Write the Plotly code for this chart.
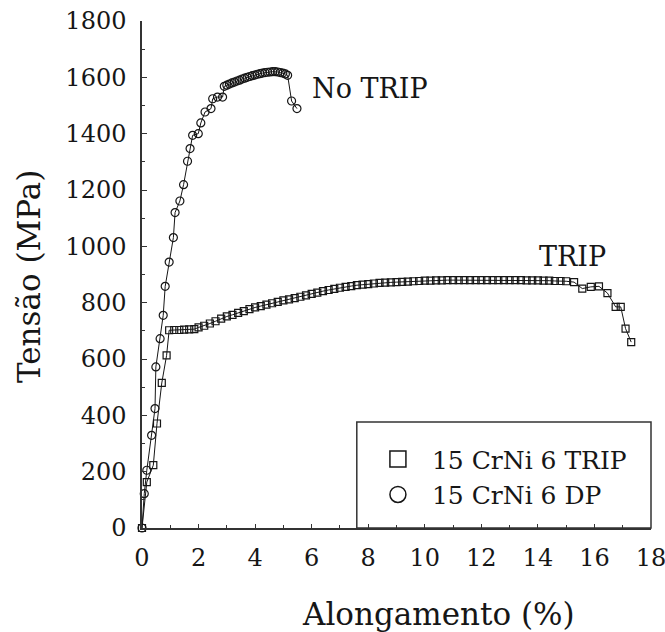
import plotly.graph_objects as go

# ---- data ----
dp_x = [0, 0.08, 0.17, 0.34, 0.46, 0.49, 0.64, 0.75, 0.82, 0.96, 1.11, 1.17, 1.34, 1.47,
        1.61, 1.70, 1.79, 1.99, 2.08, 2.23, 2.44, 2.50, 2.67, 2.85, 2.91,
        3.00, 3.09, 3.18, 3.27, 3.36, 3.45, 3.54, 3.63, 3.72, 3.81, 3.90, 3.99, 4.08,
        4.17, 4.26, 4.35, 4.44, 4.53, 4.62, 4.71, 4.80, 4.89, 4.98, 5.07, 5.15,
        5.29, 5.48]
dp_y = [0, 122, 205, 329, 424, 572, 672, 755, 858, 944, 1031, 1120, 1161, 1219,
        1302, 1347, 1394, 1400, 1438, 1477, 1489, 1524, 1530, 1530, 1568,
        1572, 1576, 1580, 1583, 1587, 1590, 1594, 1597, 1600, 1603, 1606, 1608, 1611,
        1613, 1615, 1617, 1618, 1619, 1620, 1620, 1619, 1617, 1615, 1612, 1607,
        1516, 1489]

trip_x = [0, 0.17, 0.40, 0.53, 0.70, 0.87, 0.96, 1.14, 1.32, 1.49, 1.67, 1.85,
          2.0, 2.2, 2.4, 2.6, 2.8, 3.0, 3.2, 3.4, 3.6, 3.8, 4.0, 4.2, 4.4, 4.6, 4.8,
          5.0, 5.2, 5.4, 5.6, 5.8, 6.0, 6.2, 6.4, 6.6, 6.8, 7.0, 7.2, 7.4, 7.6, 7.8,
          8.0, 8.2, 8.4, 8.6, 8.8, 9.0, 9.2, 9.4, 9.6, 9.8, 10.0, 10.2, 10.4, 10.6,
          10.8, 11.0, 11.2, 11.4, 11.6, 11.8, 12.0, 12.2, 12.4, 12.6, 12.8, 13.0,
          13.2, 13.4, 13.6, 13.8, 14.0, 14.2, 14.4, 14.6, 14.8, 15.0, 15.28, 15.57,
          15.87, 16.16, 16.46, 16.75, 16.93, 17.10, 17.30]
trip_y = [0, 163, 223, 371, 515, 613, 702, 703, 703, 704, 705, 706,
          712, 718, 726, 734, 743, 751, 757, 764, 770, 777, 783, 788, 793, 798, 803,
          808, 812, 816, 821, 826, 831, 836, 841, 845, 849, 853, 856, 859, 862, 864,
          866, 868, 870, 871, 872, 873, 874, 875, 876, 877, 878, 878, 879, 879,
          880, 880, 880, 880, 880, 880, 880, 880, 880, 880, 880, 880,
          880, 880, 879, 879, 879, 878, 878, 877, 877, 876, 873, 850,
          856, 858, 834, 785, 785, 708, 660]

series_names = ["15 CrNi 6 TRIP", "15 CrNi 6 DP"]
x_ticks = [0, 2, 4, 6, 8, 10, 12, 14, 16, 18]
y_ticks = [0, 200, 400, 600, 800, 1000, 1200, 1400, 1600, 1800]

FONT = "DejaVu Serif"
INK = "#161616"

fig = go.Figure()

fig.add_trace(go.Scatter(
    x=trip_x, y=trip_y, mode="lines+markers", showlegend=False,
    line=dict(color=INK, width=1),
    marker=dict(symbol="square-open", size=7, color=INK, line=dict(width=1.2)),
    cliponaxis=False))
fig.add_trace(go.Scatter(
    x=dp_x, y=dp_y, mode="lines+markers", showlegend=False,
    line=dict(color=INK, width=1),
    marker=dict(symbol="circle-open", size=8, color=INK, line=dict(width=1.2)),
    cliponaxis=False))

# legend entries
fig.add_trace(go.Scatter(
    x=[None], y=[None], mode="markers", name=series_names[0],
    marker=dict(symbol="square-open", size=16, color=INK, line=dict(width=1.5))))
fig.add_trace(go.Scatter(
    x=[None], y=[None], mode="markers", name=series_names[1],
    marker=dict(symbol="circle-open", size=16, color=INK, line=dict(width=1.5))))

axis_common = dict(
    showgrid=False, zeroline=False, showline=True, linecolor="#333", linewidth=1.5,
    ticks="inside", tickcolor="#333", tickwidth=1.2, ticklabeloverflow="allow",
    automargin=False, tickfont=dict(family=FONT, size=24, color=INK),
)

fig.update_xaxes(range=[0, 18], tickvals=x_ticks, ticklen=4, ticklabelstandoff=7,
                 minor=dict(dtick=1, ticks="inside", ticklen=3, tickcolor="#333"),
                 **axis_common)
fig.update_yaxes(range=[0, 1800], tickvals=y_ticks, ticklen=5, ticklabelstandoff=9,
                 minor=dict(dtick=100, ticks="inside", ticklen=3, tickcolor="#333"),
                 **axis_common)

fig.add_annotation(x=5.93, y=1561, text="No TRIP", showarrow=False, xanchor="left",
                   yanchor="middle", font=dict(family=FONT, size=27, color=INK))
fig.add_annotation(x=13.96, y=964, text="TRIP", showarrow=False, xanchor="left",
                   yanchor="middle", font=dict(family=FONT, size=27, color=INK))

# axis titles
fig.add_annotation(xref="paper", yref="paper", x=-0.222, y=0.495, text="Tensão (MPa)",
                   textangle=-90, showarrow=False, xanchor="center", yanchor="middle",
                   font=dict(family=FONT, size=31, color=INK))
fig.add_annotation(xref="paper", yref="paper", x=0.583, y=-0.17, text="Alongamento (%)",
                   showarrow=False, xanchor="center", yanchor="middle",
                   font=dict(family=FONT, size=31, color=INK))

# legend box
fig.add_shape(type="rect", xref="paper", yref="paper", x0=0.422, x1=1.0, y0=0, y1=0.209,
              line=dict(color="#333", width=1.5), fillcolor="rgba(0,0,0,0)", layer="above")

fig.update_layout(
    width=665, height=632,
    margin=dict(l=142, r=14, t=21, b=104),
    plot_bgcolor="white", paper_bgcolor="white",
    font=dict(family=FONT),
    legend=dict(x=0.436, y=0.181, xanchor="left", yanchor="top",
                font=dict(family=FONT, size=25, color=INK),
                bgcolor="rgba(0,0,0,0)", borderwidth=0, itemwidth=58,
                tracegroupgap=0),
)

fig.write_html("out.html")
